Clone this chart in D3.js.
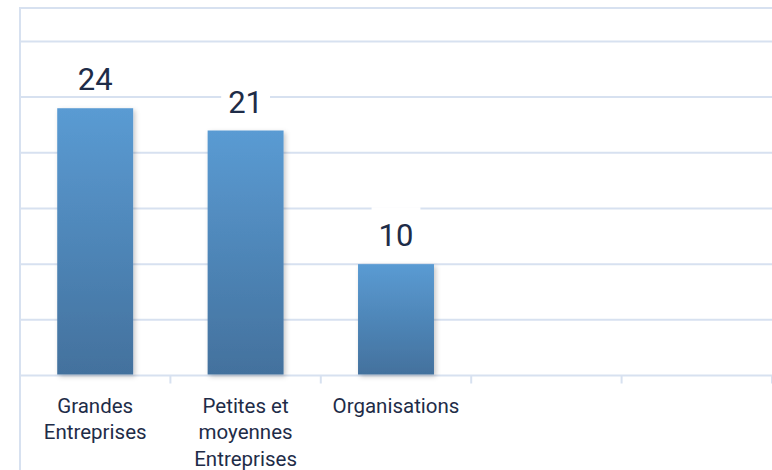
<!DOCTYPE html>
<html>
<head>
<meta charset="utf-8">
<script src="https://cdn.jsdelivr.net/npm/d3@7"></script>
<style>
	body { margin: 0; background: #fff; }
	text { font-family: Roboto, 'Noto Sans', sans-serif; fill: #1e2c48; }
</style>
</head>
<body>
<div id="chart"></div>
<script>
'use strict';

// categories (two empty slots on the right, as in the original)
let categories = [['Grandes', 'Entreprises'], ['Petites et', 'moyennes', 'Entreprises'], ['Organisations'], [], []];
// bar heights as drawn, and the labels printed above them
let values = [24, 22, 10];
let valueLabels = ['24', '21', '10'];
let gridTicks = [0, 5, 10, 15, 20, 25, 30];

let W = 772, H = 470;
let mLeft = 20, mRight = 772, mTop = 8, base = 375.5;

let svg = d3.select('#chart')
	.append('svg')
		.attr('width', W)
		.attr('height', H)
	;

let defs = svg.append('defs');
let grad = defs.append('linearGradient')
	.attr('id', 'barfill').attr('x1', 0).attr('y1', 0).attr('x2', 0).attr('y2', 1)
	;
grad.append('stop').attr('offset', '0%').attr('stop-color', '#5a9bd3');
grad.append('stop').attr('offset', '100%').attr('stop-color', '#43719d');

let shadow = defs.append('filter').attr('id', 'shadow')
	.attr('x', '-20%').attr('y', '-10%').attr('width', '140%').attr('height', '130%');
shadow.append('feDropShadow')
	.attr('dx', 2).attr('dy', 2).attr('stdDeviation', 2.5)
	.attr('flood-color', '#000').attr('flood-opacity', 0.22)
	;

let x = d3.scaleBand()
	.domain(d3.range(categories.length))
	.range([mLeft, mRight])
	.paddingInner(0.495)
	.paddingOuter(0.2475)
	;
let slot = (mRight - mLeft) / categories.length;

let y = d3.scaleLinear()
	.domain([0, 33])
	.range([base, mTop])
	;

// gridlines
let grid = svg.append('g').classed('grid', true);
grid.selectAll('line')
	.data(gridTicks)
	.join('line')
		.attr('x1', mLeft)
		.attr('x2', mRight)
		.attr('y1', d => y(d))
		.attr('y2', d => y(d))
		.attr('stroke', '#d7e1f0')
		.attr('stroke-width', 2)
	;
// plot top border and left border
svg.append('line')
	.attr('x1', mLeft).attr('x2', mRight).attr('y1', mTop).attr('y2', mTop)
	.attr('stroke', '#d7e1f0').attr('stroke-width', 2);
svg.append('line')
	.attr('x1', mLeft).attr('x2', mLeft).attr('y1', mTop - 1).attr('y2', H)
	.attr('stroke', '#d7e1f0').attr('stroke-width', 2);

// category ticks between slots
svg.append('g')
	.selectAll('line')
	.data(d3.range(1, categories.length + 1))
	.join('line')
		.attr('x1', i => mLeft + i * slot)
		.attr('x2', i => mLeft + i * slot)
		.attr('y1', base)
		.attr('y2', base + 8)
		.attr('stroke', '#d7e1f0')
		.attr('stroke-width', 2)
	;

// bars
svg.append('g')
	.selectAll('rect')
	.data(values)
	.join('rect')
		.attr('x', (d, i) => x(i))
		.attr('y', d => y(d))
		.attr('width', x.bandwidth())
		.attr('height', d => base - 1 - y(d))
		.attr('fill', 'url(#barfill)')
		.attr('filter', 'url(#shadow)')
	;

// value labels with white background
let labels = svg.append('g').classed('labels', true);
values.forEach(function(v, i) {
	let cx = x(i) + x.bandwidth() / 2;
	let g = labels.append('g');
	let box = g.append('rect').attr('fill', '#fff');
	let t = g.append('text')
		.attr('x', cx)
		.attr('y', y(v) - 18)
		.attr('text-anchor', 'middle')
		.attr('font-size', 31)
		.text(valueLabels[i])
		;
	let bb = t.node().getBBox();
	box
		.attr('x', bb.x - 7)
		.attr('y', y(v) - 57)
		.attr('width', bb.width + 14)
		.attr('height', 38)
		;
});

// category labels
let cats = svg.append('g').classed('cats', true);
categories.forEach(function(lines, i) {
	let cx = mLeft + (i + 0.5) * slot;
	let t = cats.append('text')
		.attr('text-anchor', 'middle')
		.attr('font-size', 20.5)
		;
	lines.forEach(function(s, j) {
		t.append('tspan')
			.attr('x', cx)
			.attr('y', 413 + j * 26.3)
			.text(s)
			;
	});
});
</script>
</body>
</html>
